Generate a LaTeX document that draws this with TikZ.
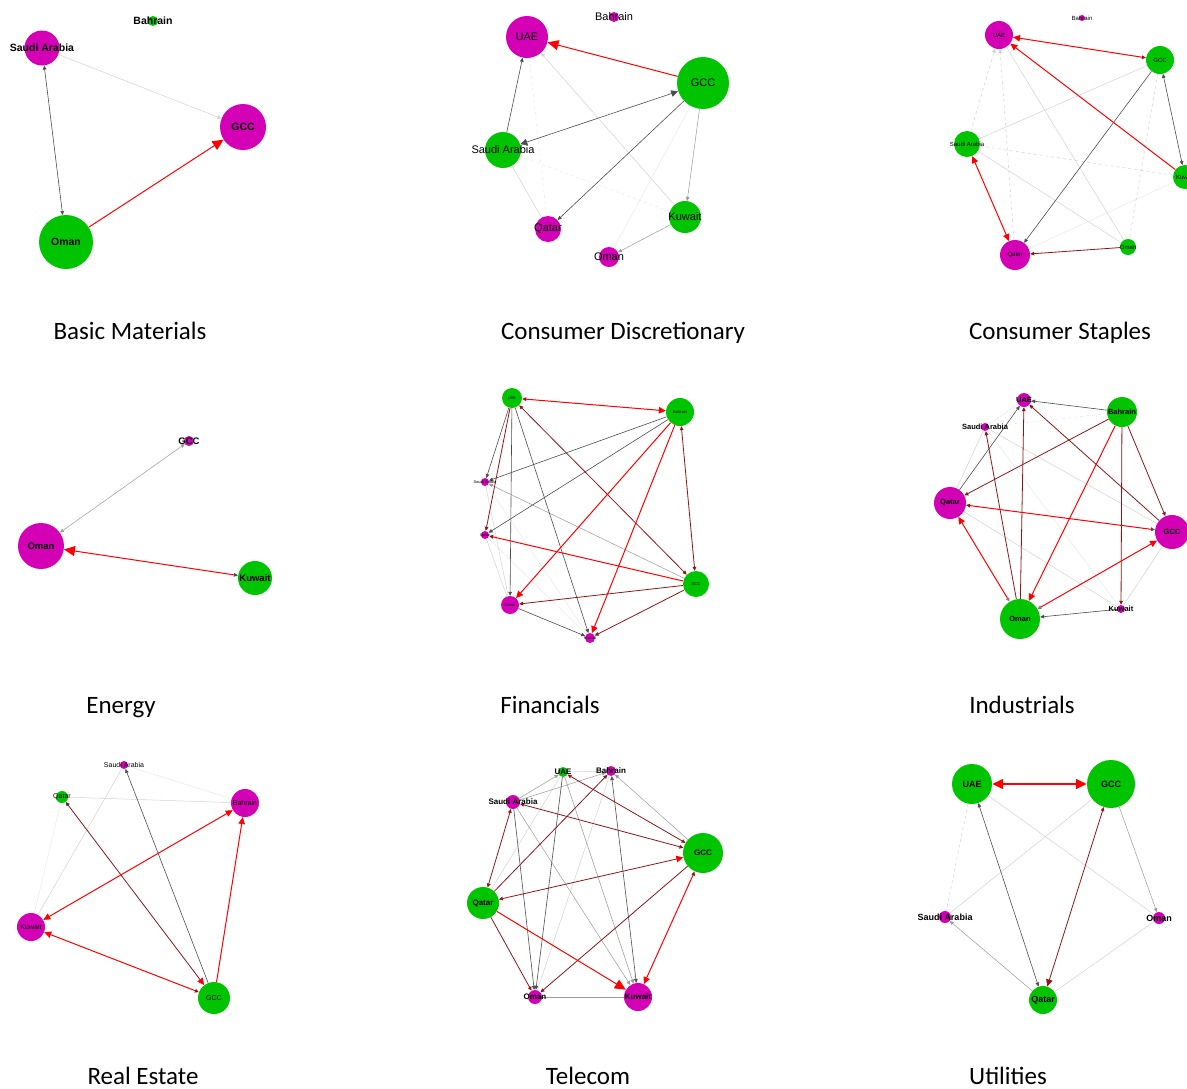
\documentclass[tikz,border=0pt]{standalone}
\usepackage{fontspec}
\setmainfont{Liberation Sans}
\newfontfamily\titlefont{Carlito}
\usetikzlibrary{arrows.meta, backgrounds}

\definecolor{ngreen}{RGB}{0,196,0}
\definecolor{nmag}{RGB}{212,0,182}
\definecolor{edred}{RGB}{255,0,0}
\definecolor{eddark}{RGB}{140,22,22}

\tikzset{
  tipS/.tip={Triangle[length=4pt,width=3.6pt]},
  tipM/.tip={Triangle[length=7pt,width=6.5pt]},
  tipB/.tip={Triangle[length=11pt,width=10pt]},
}

\begin{document}
\begin{tikzpicture}[x=1pt, y=-1pt,
            gnode/.style={circle, fill=ngreen, inner sep=0pt, minimum size=#1},
            mnode/.style={circle, fill=nmag, inner sep=0pt, minimum size=#1},
            e1/.style={draw=edred, line width=1pt},
            e2/.style={draw=eddark, line width=0.8pt},
            e3/.style={draw=black!70, line width=0.6pt},
            e4/.style={draw=black!40, line width=0.5pt},
            e5/.style={draw=black!18, line width=0.5pt},
            e6/.style={draw=black!9, line width=0.5pt},
            title/.style={font=\titlefont\fontsize{25}{30}\selectfont, anchor=base, inner sep=0pt},
            ]
            \useasboundingbox (0,0) rectangle (1187,1088);
            \clip (0,0) rectangle (1187,1088);

            %Basic Materials
            \begin{scope}[every label/.style={font=\bfseries\fontsize{10.5}{12}\selectfont, inner sep=0pt}]
              \node[gnode=10, label=center:Bahrain]      (bmBahrain) at (153,21)  {};
              \node[mnode=35, label=center:Saudi Arabia] (bmSaudi)   at (42,48)   {};
              \node[mnode=46, label=center:GCC]          (bmGCC)     at (243,127) {};
              \node[gnode=54, label=center:Oman]         (bmOman)    at (66,242)  {};
            \end{scope}
            \begin{scope}[on background layer]
              \draw[e5, -tipS] (bmSaudi) -- (bmGCC);
              \draw[e3, tipS-tipS] (bmOman) -- (bmSaudi);
              \draw[e1, -tipB] (bmOman) -- (bmGCC);
            \end{scope}
            \node[title] (tBasic) at (130,339) {Basic Materials};

            %Consumer Discretionary
            \begin{scope}[every label/.style={font=\fontsize{11}{13}\selectfont, inner sep=0pt}]
              \node[mnode=10, label=center:Bahrain]      (cdBahrain) at (614,17)  {};
              \node[mnode=42, label=center:UAE]          (cdUAE)     at (527,37)  {};
              \node[gnode=52, label=center:GCC]          (cdGCC)     at (703,83)  {};
              \node[gnode=36, label=center:Saudi Arabia] (cdSaudi)   at (503,150) {};
              \node[mnode=26, label=center:Qatar]        (cdQatar)   at (548,229) {};
              \node[gnode=32, label=center:Kuwait]       (cdKuwait)  at (685,217) {};
              \node[mnode=20, label=center:Oman]         (cdOman)    at (609,257) {};
            \end{scope}
            \begin{scope}[on background layer]
              \draw[e6] (cdGCC) -- (cdOman);
              \draw[e6, dashed] (cdSaudi) -- (cdKuwait);
              \draw[e6, dashed] (cdUAE) -- (cdQatar);
              \draw[e5] (cdSaudi) -- (cdQatar);
              \draw[e5, -tipS] (cdKuwait) -- (cdUAE);
              \draw[e4, -tipS] (cdGCC) -- (cdKuwait);
              \draw[e4, -tipS] (cdKuwait) -- (cdOman);
              \draw[e3, -tipS] (cdSaudi) -- (cdUAE);
              \draw[e3, -tipS] (cdGCC) -- (cdQatar);
              \draw[e3, tipM-tipM] (cdGCC) -- (cdSaudi);
              \draw[e1, -tipB] (cdGCC) -- (cdUAE);
            \end{scope}
            \node[title] (tDiscr) at (623,339) {Consumer Discretionary};

            %Consumer Staples
            \begin{scope}[every label/.style={font=\fontsize{6}{7}\selectfont, inner sep=0pt}]
              \node[mnode=6,  label=center:Bahrain]      (csBahrain) at (1082,18)  {};
              \node[mnode=28, label=center:UAE]          (csUAE)     at (999,35)   {};
              \node[gnode=28, label=center:GCC]          (csGCC)     at (1160,60)  {};
              \node[gnode=26, label=center:Saudi Arabia] (csSaudi)   at (967,144)  {};
              \node[gnode=24, label=center:Kuwait]       (csKuwait)  at (1185,177) {};
              \node[gnode=16, label=center:Oman]         (csOman)    at (1128,247) {};
              \node[mnode=30, label=center:Qatar]        (csQatar)   at (1015,255) {};
            \end{scope}
            \begin{scope}[on background layer]
              \draw[e6] (csKuwait) -- (csQatar);
              \draw[e5] (csGCC) -- (csSaudi);
              \draw[e5, dashed] (csSaudi) -- (csKuwait);
              \draw[e5] (csSaudi) -- (csOman);
              \draw[e5] (csUAE) -- (csOman);
              \draw[e5, dashed] (csGCC) -- (csOman);
              \draw[e5, dashed, -tipS] (csSaudi) -- (csUAE);
              \draw[e5, dashed, -tipS] (csQatar) -- (csUAE);
              \draw[e3, -tipS] (csGCC) -- (csQatar);
              \draw[e3, tipS-tipS] (csGCC) -- (csKuwait);
              \draw[e2, -tipS] (csOman) -- (csQatar);
              \draw[e1, -tipM] (csKuwait) -- (csUAE);
              \draw[e1, {tipM}-{tipS[eddark]}] (csUAE) -- (csGCC);
              \draw[e1, tipM-tipM] (csSaudi) -- (csQatar);
            \end{scope}
            \node[title] (tStaples) at (1060,339) {Consumer Staples};

            %Energy
            \begin{scope}[every label/.style={font=\bfseries\fontsize{9.5}{11}\selectfont, inner sep=0pt}]
              \node[mnode=10, label=center:GCC]    (enGCC)    at (189,441) {};
              \node[mnode=46, label=center:Oman]   (enOman)   at (41,546)  {};
              \node[gnode=34, label=center:Kuwait] (enKuwait) at (255,578) {};
            \end{scope}
            \begin{scope}[on background layer]
              \draw[e4, tipS-tipS] (enOman) -- (enGCC);
              \draw[e1, {tipS[black!70]}-{tipB}] (enKuwait) -- (enOman);
            \end{scope}
            \node[title] (tEnergy) at (121,713) {Energy};

            %Financials
            \begin{scope}[every label/.style={font=\fontsize{4}{5}\selectfont, inner sep=0pt}]
              \node[gnode=20, label=center:UAE]          (fiUAE)     at (512,398) {};
              \node[gnode=28, label=center:Bahrain]      (fiBahrain) at (680,412) {};
              \node[mnode=8,  label=center:Saudi Arabia] (fiSaudi)   at (485,482) {};
              \node[mnode=8,  label=center:Qatar]        (fiQatar)   at (485,535) {};
              \node[gnode=26, label=center:GCC]          (fiGCC)     at (696,584) {};
              \node[mnode=18, label=center:Oman]         (fiOman)    at (510,605) {};
              \node[mnode=10, label=center:Kuwait]       (fiKuwait)  at (590,638) {};
            \end{scope}
            \begin{scope}[on background layer]
              \draw[e6] (fiSaudi) -- (fiKuwait);
              \draw[e6] (fiQatar) -- (fiKuwait);
              \draw[e5] (fiSaudi) -- (fiOman);
              \draw[e5] (fiQatar) -- (fiOman);
              \draw[e4, -tipS] (fiGCC) -- (fiSaudi);
              \draw[e3, -tipS] (fiBahrain) -- (fiSaudi);
              \draw[e3, -tipS] (fiBahrain) -- (fiQatar);
              \draw[e3, -tipS] (fiUAE) -- (fiSaudi);
              \draw[e3, -tipS] (fiUAE) -- (fiOman);
              \draw[e3, -tipS] (fiUAE) -- (fiKuwait);
              \draw[e3, -tipS] (fiOman) -- (fiKuwait);
              \draw[e2, -tipS] (fiUAE) -- (fiQatar);
              \draw[e2, -tipS] (fiGCC) -- (fiOman);
              \draw[e2, -tipS] (fiGCC) -- (fiKuwait);
              \draw[e2, tipS-tipS] (fiBahrain) -- (fiGCC);
              \draw[e2, tipS-tipS] (fiUAE) -- (fiGCC);
              \draw[e1, -{tipS[eddark]}] (fiGCC) -- (fiQatar);
              \draw[e1, -tipM] (fiBahrain) -- (fiOman);
              \draw[e1, -tipM] (fiBahrain) -- (fiKuwait);
              \draw[e1, {tipS[eddark]}-{tipM}] (fiUAE) -- (fiBahrain);
            \end{scope}
            \node[title] (tFin) at (550,713) {Financials};

            %Industrials
            \begin{scope}[every label/.style={font=\bfseries\fontsize{7.5}{9}\selectfont, inner sep=0pt}]
              \node[mnode=14, label=center:UAE]          (inUAE)     at (1024,400) {};
              \node[mnode=8,  label=center:Saudi Arabia] (inSaudi)   at (985,427)  {};
              \node[gnode=30, label=center:Bahrain]      (inBahrain) at (1122,412) {};
              \node[mnode=32, label=center:Qatar]        (inQatar)   at (950,503)  {};
              \node[mnode=34, label=center:GCC]          (inGCC)     at (1172,532) {};
              \node[gnode=40, label=center:Oman]         (inOman)    at (1020,619) {};
              \node[mnode=8,  label=center:Kuwait]       (inKuwait)  at (1121,609) {};
            \end{scope}
            \begin{scope}[on background layer]
              \draw[e6] (inSaudi) -- (inUAE);
              \draw[e6] (inSaudi) -- (inKuwait);
              \draw[e6, dashed] (inBahrain) -- (inSaudi);
              \draw[e5] (inGCC) -- (inKuwait);
              \draw[e5] (inGCC) -- (inSaudi);
              \draw[e5] (inQatar) -- (inKuwait);
              \draw[e5] (inSaudi) -- (inQatar);
              \draw[e3, -tipS] (inBahrain) -- (inUAE);
              \draw[e3, -tipS] (inQatar) -- (inUAE);
              \draw[e3, -tipS] (inKuwait) -- (inOman);
              \draw[e2, -tipS] (inGCC) -- (inUAE);
              \draw[e2, -tipS] (inBahrain) -- (inQatar);
              \draw[e2, -tipS] (inBahrain) -- (inKuwait);
              \draw[e2, -tipS] (inBahrain) -- (inGCC);
              \draw[e2, -tipS] (inOman) -- (inUAE);
              \draw[e2, -tipS] (inOman) -- (inSaudi);
              \draw[e1, -tipM] (inBahrain) -- (inOman);
              \draw[e1, {tipS[black!70]}-{tipS[eddark]}] (inGCC) -- (inQatar);
              \draw[e1, {tipS[black!50]}-{tipM}] (inOman) -- (inGCC);
              \draw[e1, {tipS[black!50]}-{tipM}] (inOman) -- (inQatar);
            \end{scope}
            \node[title] (tInd) at (1022,713) {Industrials};

            %Real Estate
            \begin{scope}[every label/.style={font=\fontsize{7}{8}\selectfont, inner sep=0pt}]
              \node[mnode=8,  label=center:Saudi Arabia] (reSaudi)   at (124,765) {};
              \node[gnode=12, label=center:Qatar]        (reQatar)   at (62,797)  {};
              \node[mnode=28, label=center:Bahrain]      (reBahrain) at (245,803) {};
              \node[mnode=28, label=center:Kuwait]       (reKuwait)  at (31,927)  {};
              \node[gnode=32, label=center:GCC]          (reGCC)     at (214,998) {};
            \end{scope}
            \begin{scope}[on background layer]
              \draw[e6] (reBahrain) -- (reSaudi);
              \draw[e6] (reKuwait) -- (reQatar);
              \draw[e5] (reBahrain) -- (reQatar);
              \draw[e5] (reKuwait) -- (reSaudi);
              \draw[e3, -tipS] (reGCC) -- (reSaudi);
              \draw[e2, {tipS[black!80]}-{tipM[edred]}] (reQatar) -- (reGCC);
              \draw[e1, -tipM] (reGCC) -- (reBahrain);
              \draw[e1, tipM-tipM] (reBahrain) -- (reKuwait);
              \draw[e1, {tipM}-{tipS[eddark]}] (reKuwait) -- (reGCC);
            \end{scope}
            \node[title] (tReal) at (143,1084) {Real Estate};

            %Telecom
            \begin{scope}[every label/.style={font=\bfseries\fontsize{8}{9}\selectfont, inner sep=0pt}]
              \node[gnode=10, label=center:UAE]          (teUAE)     at (563,772) {};
              \node[mnode=10, label=center:Bahrain]      (teBahrain) at (611,771) {};
              \node[mnode=14, label=center:Saudi Arabia] (teSaudi)   at (513,802) {};
              \node[gnode=40, label=center:GCC]          (teGCC)     at (703,853) {};
              \node[gnode=32, label=center:Qatar]        (teQatar)   at (483,903) {};
              \node[mnode=14, label=center:Oman]         (teOman)    at (535,997) {};
              \node[mnode=28, label=center:Kuwait]       (teKuwait)  at (638,997) {};
            \end{scope}
            \begin{scope}[on background layer]
              \draw[e5] (teQatar) -- (teUAE);
              \draw[e5] (teUAE) -- (teBahrain);
              \draw[e5] (teBahrain) -- (teOman);
              \draw[e4] (teOman) -- (teKuwait);
              \draw[e4, -tipS] (teGCC) -- (teBahrain);
              \draw[e4, -tipS] (teSaudi) -- (teBahrain);
              \draw[e4, -tipS] (teSaudi) -- (teUAE);
              \draw[e4, -tipS] (teSaudi) -- (teKuwait);
              \draw[e4, -tipS] (teUAE) -- (teKuwait);
              \draw[e3, -tipS] (teSaudi) -- (teOman);
              \draw[e3, -tipS] (teUAE) -- (teOman);
              \draw[e3, tipS-tipS] (teBahrain) -- (teKuwait);
              \draw[e2, -tipS] (teGCC) -- (teOman);
              \draw[e2, -tipS] (teQatar) -- (teBahrain);
              \draw[e2, -tipS] (teQatar) -- (teOman);
              \draw[e2, tipS-tipS] (teQatar) -- (teSaudi);
              \draw[e2, tipS-tipS] (teGCC) -- (teUAE);
              \draw[e2, tipS-tipS] (teGCC) -- (teSaudi);
              \draw[e2, {tipS}-{tipM[edred]}] (teQatar) -- (teGCC);
              \draw[e1, {tipS[eddark]}-{tipM}] (teGCC) -- (teKuwait);
              \draw[e1, -tipB] (teQatar) -- (teKuwait);
            \end{scope}
            \node[title] (tTel) at (588,1084) {Telecom};

            %Utilities
            \begin{scope}[every label/.style={font=\bfseries\fontsize{9}{10}\selectfont, inner sep=0pt}]
              \node[gnode=40, label=center:UAE]          (utUAE)   at (972,784)  {};
              \node[gnode=48, label=center:GCC]          (utGCC)   at (1111,784) {};
              \node[mnode=12, label=center:Saudi Arabia] (utSaudi) at (945,917)  {};
              \node[mnode=12, label=center:Oman]         (utOman)  at (1159,918) {};
              \node[gnode=28, label=center:Qatar]        (utQatar) at (1043,1000) {};
            \end{scope}
            \begin{scope}[on background layer]
              \draw[e5, dashed] (utUAE) -- (utSaudi);
              \draw[e5] (utGCC) -- (utSaudi);
              \draw[e5] (utUAE) -- (utOman);
              \draw[e5] (utQatar) -- (utOman);
              \draw[e4, -tipS] (utGCC) -- (utOman);
              \draw[e4, -tipS] (utQatar) -- (utSaudi);
              \draw[e3, tipS-tipS] (utQatar) -- (utUAE);
              \draw[e2, tipS-tipM] (utGCC) -- (utQatar);
              \draw[e1, line width=1.5pt, tipB-tipB] (utUAE) -- (utGCC);
            \end{scope}
            \node[title] (tUtil) at (1008,1084) {Utilities};
          \end{tikzpicture}
\end{document}
